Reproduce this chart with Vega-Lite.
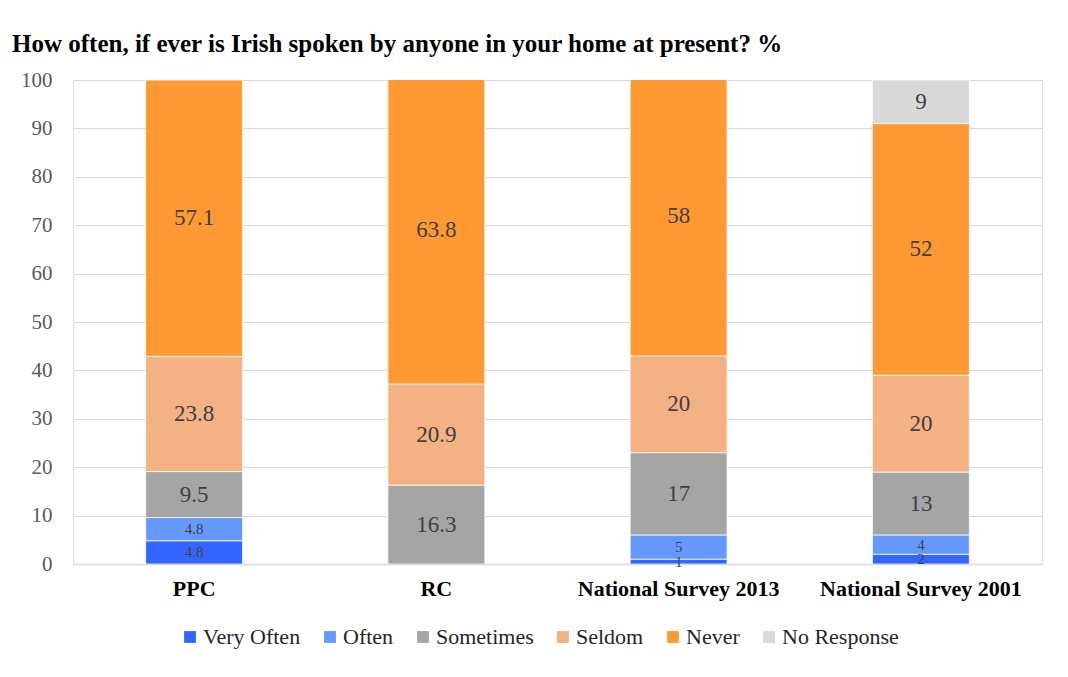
{
  "$schema": "https://vega.github.io/schema/vega-lite/v6.json",
  "autosize": "none",
  "width": 969,
  "height": 484,
  "padding": {"left": 73, "top": 80, "right": 26, "bottom": 113},
  "background": "white",
  "config": {
    "font": "Liberation Serif",
    "legend": {"labelFont": "Liberation Serif", "labelFontSize": 22}
  },
  "title": {
    "text": "How often, if ever is Irish spoken by anyone in your home at present? %",
    "anchor": "start",
    "frame": "group",
    "dx": -61,
    "offset": 12,
    "font": "Liberation Serif",
    "fontSize": 25,
    "fontWeight": "bold",
    "color": "#000000"
  },
  "data": {
    "values": [
      {"group": "PPC", "response": "Very Often", "order": 1, "value": 4.8},
      {"group": "PPC", "response": "Often", "order": 2, "value": 4.8},
      {"group": "PPC", "response": "Sometimes", "order": 3, "value": 9.5},
      {"group": "PPC", "response": "Seldom", "order": 4, "value": 23.8},
      {"group": "PPC", "response": "Never", "order": 5, "value": 57.1},
      {"group": "RC", "response": "Sometimes", "order": 3, "value": 16.3},
      {"group": "RC", "response": "Seldom", "order": 4, "value": 20.9},
      {"group": "RC", "response": "Never", "order": 5, "value": 63.8},
      {"group": "National Survey 2013", "response": "Very Often", "order": 1, "value": 1},
      {"group": "National Survey 2013", "response": "Often", "order": 2, "value": 5},
      {"group": "National Survey 2013", "response": "Sometimes", "order": 3, "value": 17},
      {"group": "National Survey 2013", "response": "Seldom", "order": 4, "value": 20},
      {"group": "National Survey 2013", "response": "Never", "order": 5, "value": 58},
      {"group": "National Survey 2001", "response": "Very Often", "order": 1, "value": 2},
      {"group": "National Survey 2001", "response": "Often", "order": 2, "value": 4},
      {"group": "National Survey 2001", "response": "Sometimes", "order": 3, "value": 13},
      {"group": "National Survey 2001", "response": "Seldom", "order": 4, "value": 20},
      {"group": "National Survey 2001", "response": "Never", "order": 5, "value": 52},
      {"group": "National Survey 2001", "response": "No Response", "order": 6, "value": 9}
    ]
  },
  "transform": [
    {"stack": "value", "groupby": ["group"], "sort": [{"field": "order", "order": "ascending"}], "as": ["v0", "v1"]},
    {"calculate": "(datum.v0 + datum.v1) / 2", "as": "mid"}
  ],
  "encoding": {
    "x": {
      "field": "group",
      "type": "nominal",
      "sort": ["PPC", "RC", "National Survey 2013", "National Survey 2001"],
      "scale": {"paddingInner": 0.6, "paddingOuter": 0.3},
      "axis": {
        "title": null,
        "labelAngle": 0,
        "labelFont": "Liberation Serif",
        "labelFontSize": 22,
        "labelFontWeight": "bold",
        "labelColor": "#000000",
        "labelPadding": 14,
        "labelLimit": 400,
        "ticks": false,
        "domainColor": "#D9D9D9",
        "domainWidth": 1.5,
        "grid": false
      }
    }
  },
  "layer": [
    {
      "mark": {"type": "bar", "clip": true, "stroke": "white", "strokeWidth": 0.75},
      "encoding": {
        "y": {
          "field": "v0",
          "type": "quantitative",
          "scale": {"domain": [0, 100], "nice": false},
          "axis": {
            "title": null,
            "values": [0, 10, 20, 30, 40, 50, 60, 70, 80, 90, 100],
            "labelFont": "Liberation Serif",
            "labelFontSize": 21,
            "labelColor": "#595959",
            "labelPadding": 21,
            "ticks": false,
            "domain": false,
            "gridColor": "#D9D9D9",
            "gridWidth": 1
          }
        },
        "y2": {"field": "v1"},
        "color": {
          "field": "response",
          "type": "nominal",
          "scale": {
            "domain": ["Very Often", "Often", "Sometimes", "Seldom", "Never", "No Response"],
            "range": ["#3366FF", "#6699FF", "#A5A5A5", "#F4B183", "#FF9933", "#D9D9D9"]
          },
          "legend": {
            "title": null,
            "orient": "none",
            "legendX": 106,
            "legendY": 546,
            "direction": "horizontal",
            "symbolType": "square",
            "symbolSize": 140,
            "symbolStrokeWidth": 0,
            "labelFont": "Liberation Serif",
            "labelFontSize": 22,
            "labelColor": "#262626",
            "labelOffset": 2,
            "columnPadding": 18
          }
        }
      }
    },
    {
      "mark": {"type": "text", "font": "Liberation Serif", "color": "#404040", "baseline": "middle"},
      "encoding": {
        "y": {"field": "mid", "type": "quantitative"},
        "text": {"field": "value", "type": "quantitative"},
        "size": {
          "condition": {"test": "datum.value < 6", "value": 15},
          "value": 23
        }
      }
    }
  ]
}
